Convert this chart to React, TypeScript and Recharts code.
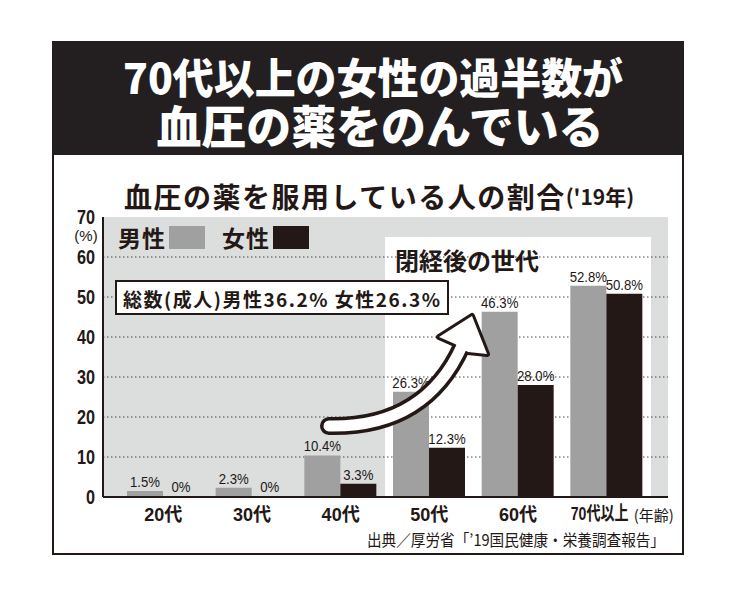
import React from 'react';
import {
  BarChart,
  Bar,
  XAxis,
  YAxis,
  CartesianGrid,
  ReferenceArea,
  ReferenceLine,
  LabelList,
  Legend,
} from 'recharts';

// ---------- data ----------
const categories = ['20代', '30代', '40代', '50代', '60代', '70代以上'];
const maleValues = [1.5, 2.3, 10.4, 26.3, 46.3, 52.8];
const femaleValues = [0, 0, 3.3, 12.3, 28.0, 50.8];
const seriesNames = ['男性', '女性'];
const yTicks = [0, 10, 20, 30, 40, 50, 60, 70];
const gridValues = [10, 20, 30, 40, 50, 60];
const highlightFrom = '50代';
const highlightTo = '70代以上';
const highlightTop = 65;
const highlightLabel = '閉経後の世代';
const totalMale = 36.2;
const totalFemale = 26.3;
const headerLines = ['70代以上の女性の過半数が', '血圧の薬をのんでいる'];
const chartTitle = '血圧の薬を服用している人の割合';
const chartTitleYear = "('19年)";
const yUnit = '(%)';
const xUnit = '(年齢)';
const sourceText = '出典／厚労省「\u201919国民健康・栄養調査報告」';

// ---------- style ----------
const MALE = '#a0a0a0';
const FEMALE = '#231815';
const INK = '#231815';
const PLOT_BG = '#dcdddd';
const SANS = '"Liberation Sans", "Noto Sans CJK JP", sans-serif';
const CJK = '"Noto Sans CJK JP", sans-serif';

const data = categories.map((c, i) => ({ cat: c, male: maleValues[i], female: femaleValues[i] }));
const fmt = (v: any) => (Number(v) === 0 ? '0%' : Number(v).toFixed(1) + '%');

const YTick = (props: any) => {
  const { x, y, payload } = props;
  const top = payload.value === yTicks[yTicks.length - 1];
  return (
    <g>
      <text transform={`translate(${x},${y}) scale(0.81,1)`} textAnchor="end" dominantBaseline="central"
        fontFamily={SANS} fontWeight={700} fontSize={20} fill={INK}>{payload.value}</text>
      {top && (
        <text x={x - 9} y={y + 18} textAnchor="middle" dominantBaseline="central" fontFamily={SANS}
          fontSize={15} fill={INK}>{yUnit}</text>
      )}
    </g>
  );
};

const XTick = (props: any) => {
  const { x, y, payload, index } = props;
  const last = index === categories.length - 1;
  const cx = last ? x - 7 : x;
  return (
    <g>
      <text transform={`translate(${cx},${y + 17}) scale(${last ? 0.74 : 0.95},1)`} textAnchor="middle"
        dominantBaseline="central" fontFamily={SANS} fontWeight={700} fontSize={19} fill={INK}>{payload.value}</text>
      {last && (
        <text x={x + 27} y={y + 17} textAnchor="start" dominantBaseline="central"
          fontFamily={CJK} fontSize={15} fill={INK}>{xUnit}</text>
      )}
    </g>
  );
};

const ValueLabel = (props: any) => {
  const { x, y, width, value } = props;
  const cx = Number(x) + Number(width) / 2;
  const by = Number(y) - 4;
  return (
    <text transform={`translate(${cx},${by}) scale(0.85,1)`} textAnchor="middle"
      fontFamily={SANS} fontSize={15.5} fill={INK}>{fmt(value)}</text>
  );
};

const LegendContent = (props: any) => {
  const items = [...(props.payload || [])].sort(
    (a: any, b: any) => seriesNames.indexOf(a.value) - seriesNames.indexOf(b.value)
  );
  return (
    <div style={{ display: 'flex', alignItems: 'center', fontFamily: CJK, fontWeight: 700, fontSize: 23, color: INK, letterSpacing: 1 }}>
      {items.map((it: any, i: number) => (
        <div key={i} style={{ display: 'flex', alignItems: 'center', marginRight: i === 0 ? 17 : 0 }}>
          <span style={{ lineHeight: '24px' }}>{it.value}</span>
          <span style={{ display: 'inline-block', width: 36, height: 23, background: it.color, marginLeft: 3 }} />
        </div>
      ))}
    </div>
  );
};

const Arrow = () => {
  const body = 'M 329 426 Q 425 428 462 346';
  const head = '439,337 472,316 487,354 468,352 455,344';
  return (
    <g>
      <path d={body} fill="none" stroke={INK} strokeWidth={18} strokeLinecap="round" />
      <polygon points={head} fill={INK} stroke={INK} strokeWidth={6} strokeLinejoin="round" />
      <path d={body} fill="none" stroke="#fff" strokeWidth={11} strokeLinecap="round" />
      <polygon points={head} fill="#fff" />
    </g>
  );
};

export default function App() {
  return (
    <div style={{ position: 'absolute', left: 0, top: 0, width: 750, height: 615, background: '#fff', overflow: 'hidden' }}>
      {/* frame */}
      <div style={{ position: 'absolute', left: 52, top: 41, width: 632, height: 514, border: `2px solid ${INK}`, boxSizing: 'border-box' }} />
      {/* header */}
      <svg width={750} height={615} viewBox="0 0 750 615" style={{ position: 'absolute', left: 0, top: 0 }}>
        <rect x={52} y={41} width={632} height={114} fill="#231f20" />
        <text x={373} y={75} textAnchor="middle" dominantBaseline="central" fontFamily={CJK} fontWeight={900}
          fontSize={42} fill="#fff" textLength={500} lengthAdjust="spacingAndGlyphs">{headerLines[0]}</text>
        <text x={380} y={124} textAnchor="middle" dominantBaseline="central" fontFamily={CJK} fontWeight={900}
          fontSize={45} fill="#fff" textLength={447} lengthAdjust="spacingAndGlyphs">{headerLines[1]}</text>
        <text x={124} y={196} dominantBaseline="central" fontFamily={CJK} fontWeight={700} fill={INK}>
          <tspan fontSize={28} letterSpacing={1.5}>{chartTitle}</tspan>
          <tspan fontSize={21}>{chartTitleYear}</tspan>
        </text>
      </svg>

      <div style={{ position: 'absolute', left: 0, top: 0 }}>
        <BarChart width={750} height={615} data={data}
          margin={{ top: 217, right: 82, bottom: 88, left: 53 }}
          barCategoryGap={8} barGap={0}>
          <CartesianGrid fill={PLOT_BG} horizontal={false} vertical={false} stroke="none" />
          <ReferenceArea x1={highlightFrom} x2={highlightTo} y1={0} y2={highlightTop}
            fill="#ffffff" fillOpacity={1} stroke="none" zIndex={-60} />
          {gridValues.map((v) => (
            <ReferenceLine key={v} y={v} stroke="#444" strokeWidth={1} strokeDasharray="1.5 2.5" zIndex={-40} />
          ))}
          <XAxis dataKey="cat" padding={{ left: 16, right: 17 }} height={30}
            axisLine={{ stroke: INK, strokeWidth: 2 }} tickLine={false} tickSize={0} tickMargin={0}
            tick={<XTick />} interval={0} />
          <YAxis domain={[0, 70]} ticks={yTicks} width={50} interval={0}
            axisLine={{ stroke: INK, strokeWidth: 2 }} tickLine={false} tickSize={0} tickMargin={8}
            tick={<YTick />} />
          <Legend layout="horizontal" verticalAlign="middle" align="center"
            content={<LegendContent />}
            wrapperStyle={{ position: 'absolute', left: 118, top: 225, width: 'auto', height: 'auto' }} />
          <Bar dataKey="male" name={seriesNames[0]} fill={MALE} minPointSize={1} isAnimationActive={false}>
            <LabelList dataKey="male" content={<ValueLabel />} />
          </Bar>
          <Bar dataKey="female" name={seriesNames[1]} fill={FEMALE} minPointSize={1} isAnimationActive={false}>
            <LabelList dataKey="female" content={<ValueLabel />} />
          </Bar>
        </BarChart>
      </div>

      {/* annotations */}
      <svg width={750} height={615} viewBox="0 0 750 615" style={{ position: 'absolute', left: 0, top: 0, pointerEvents: 'none' }}>
        <text x={395} y={259} dominantBaseline="central" fontFamily={CJK} fontWeight={700} fontSize={24} fill={INK}>{highlightLabel}</text>
        <rect x={116} y={281} width={332} height={33} fill="#fff" stroke={INK} strokeWidth={2} />
        <text x={123} y={298} dominantBaseline="central" fontFamily={CJK} fontWeight={700} fontSize={19} fill={INK}
          textLength={317} lengthAdjust="spacing">
          {`総数(成人)${seriesNames[0]}${totalMale}% ${seriesNames[1]}${totalFemale}%`}
        </text>
        <Arrow />
        <text x={665} y={539} textAnchor="end" dominantBaseline="central" fontFamily={CJK} fontSize={16} fill={INK}
          textLength={298} lengthAdjust="spacingAndGlyphs">{sourceText}</text>
      </svg>
    </div>
  );
}
